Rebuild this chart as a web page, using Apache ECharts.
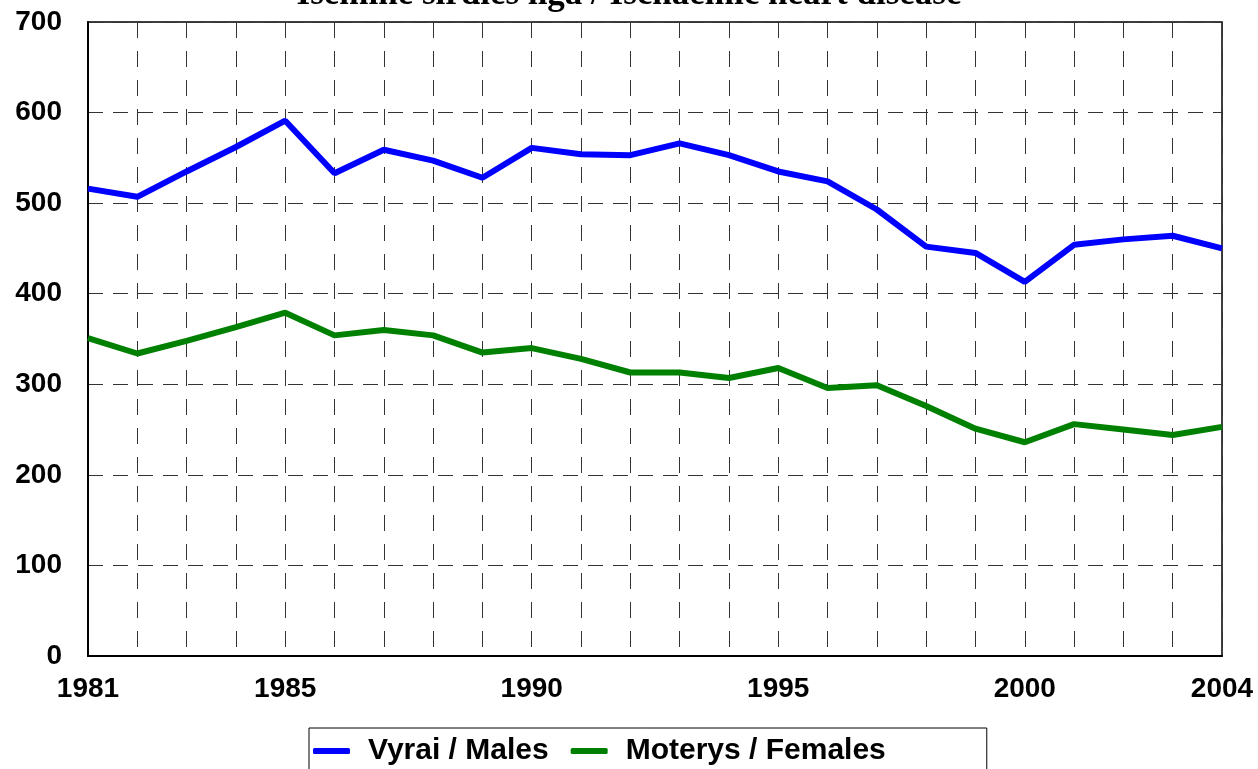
<!DOCTYPE html>
<html>
<head>
<meta charset="utf-8">
<script src="https://cdn.jsdelivr.net/npm/echarts@6/dist/echarts.min.js"></script>
<style>
  html, body { margin: 0; padding: 0; background: #fff; }
  #chart { width: 1258px; height: 769px; }
</style>
</head>
<body>
<div id="chart"></div>
<script>
var years = ["1981", "1982", "1983", "1984", "1985", "1986", "1987", "1988",
  "1989", "1990", "1991", "1992", "1993", "1994", "1995", "1996", "1997",
  "1998", "1999", "2000", "2001", "2002", "2003", "2004"];
var shownYears = ["1981", "1985", "1990", "1995", "2000", "2004"];

var males = [516, 507, 535, 562, 591, 533, 559, 547, 528, 561, 554, 553,
  566, 553, 535, 524, 493, 452, 445, 413, 454, 460, 464, 450];
var females = [351, 334, 348, 363, 379, 354, 360, 354, 335, 340, 328, 313,
  313, 307, 318, 296, 299, 276, 251, 236, 256, 250, 244, 253];

var chart = echarts.init(document.getElementById("chart"));

var labelFont = {
  color: "#000",
  fontFamily: "Liberation Sans, Arial, sans-serif",
  fontWeight: "bold",
  fontSize: 28
};

var option = {
  animation: false,
  title: {
    text: "Išeminė širdies liga / Ischaemic heart disease",
    left: "center",
    top: -23,
    padding: 0,
    textStyle: {
      fontFamily: "Liberation Serif, Times New Roman, serif",
      fontWeight: "bold",
      fontSize: 35,
      color: "#000"
    }
  },
  grid: {
    left: 88,
    right: 36,
    top: 22,
    bottom: 113,
    show: true,
    borderColor: "#000",
    borderWidth: 1.5
  },
  legend: {
    left: 309,
    top: 728,
    padding: [8, 101, 8, 4],
    itemGap: 22,
    itemWidth: 37,
    itemHeight: 6,
    icon: "roundRect",
    borderColor: "#000",
    borderWidth: 1,
    textStyle: {
      color: "#000",
      fontFamily: "Liberation Sans, Arial, sans-serif",
      fontWeight: "bold",
      fontSize: 30,
      lineHeight: 28,
      padding: [0, 0, 0, 13]
    },
    data: ["Vyrai / Males", "Moterys / Females"]
  },
  xAxis: {
    type: "category",
    data: years,
    boundaryGap: false,
    axisLine: { lineStyle: { color: "#000", width: 2 } },
    axisTick: { show: false },
    axisLabel: Object.assign({
      margin: 19,
      interval: function (index, value) {
        return shownYears.indexOf(value) >= 0;
      }
    }, labelFont),
    splitLine: {
      show: true,
      interval: 0,
      lineStyle: { color: "#333", width: 1, type: [16, 13] }
    }
  },
  yAxis: {
    type: "value",
    min: 0,
    max: 700,
    interval: 100,
    axisLine: { show: true, lineStyle: { color: "#000", width: 2 } },
    axisTick: { show: false },
    axisLabel: Object.assign({ margin: 26 }, labelFont),
    splitLine: {
      lineStyle: { color: "#333", width: 1, type: [15, 10] }
    }
  },
  series: [
    {
      name: "Vyrai / Males",
      type: "line",
      data: males,
      symbol: "none",
      color: "#0000ff",
      lineStyle: { color: "#0000ff", width: 6 }
    },
    {
      name: "Moterys / Females",
      type: "line",
      data: females,
      symbol: "none",
      color: "#008000",
      lineStyle: { color: "#008000", width: 6 }
    }
  ]
};

chart.setOption(option);
</script>
</body>
</html>
